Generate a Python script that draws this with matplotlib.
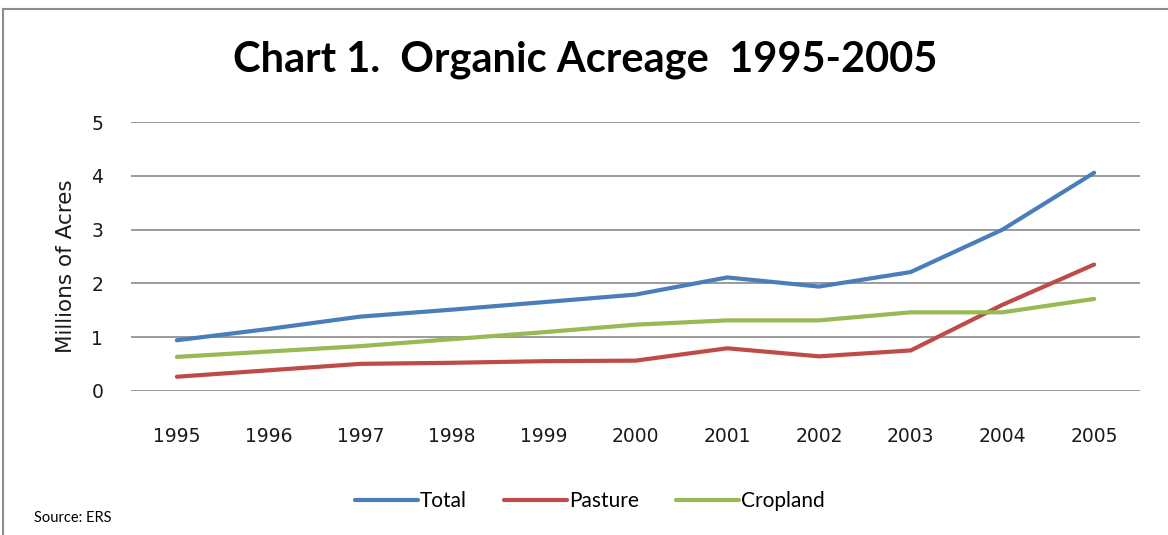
import matplotlib
matplotlib.use("Agg")
import matplotlib.pyplot as plt
from matplotlib.lines import Line2D

years = [1995, 1996, 1997, 1998, 1999, 2000, 2001, 2002, 2003, 2004, 2005]
total = [0.94, 1.15, 1.38, 1.51, 1.65, 1.79, 2.11, 1.94, 2.21, 3.00, 4.06]
pasture = [0.26, 0.38, 0.50, 0.52, 0.55, 0.56, 0.79, 0.64, 0.75, 1.60, 2.35]
cropland = [0.63, 0.73, 0.83, 0.96, 1.09, 1.23, 1.31, 1.31, 1.46, 1.46, 1.71]
yticks = [0, 1, 2, 3, 4, 5]

title = "Chart 1.  Organic Acreage  1995-2005"
ylabel = "Millions of Acres"
source = "Source: ERS"

W, H = 1168, 535
fig = plt.figure(figsize=(W / 100, H / 100), dpi=100)
fig.patch.set_facecolor("white")

# outer chart frame (top and left visible)
fig.add_artist(Line2D([3 / W, 3 / W], [0, 1 - 9 / H], transform=fig.transFigure,
                      color="#8c8c8c", lw=1.5))
fig.add_artist(Line2D([3 / W, 1], [1 - 9 / H, 1 - 9 / H], transform=fig.transFigure,
                      color="#8c8c8c", lw=1.5))

ax = fig.add_axes([131 / W, 1 - 390.7 / H, (1140 - 131) / W, (390.7 - 122.3) / H])

c_total = "#4A7EBB"
c_past = "#BE4B48"
c_crop = "#98B954"

ax.plot(years, total, color=c_total, lw=3.0, solid_capstyle="round", label="Total", zorder=3)
ax.plot(years, pasture, color=c_past, lw=3.0, solid_capstyle="round", label="Pasture", zorder=3)
ax.plot(years, cropland, color=c_crop, lw=3.0, solid_capstyle="round", label="Cropland", zorder=3)

ax.set_xlim(years[0] - 0.5, years[-1] + 0.5)
ax.set_ylim(0, 5)
ax.set_yticks(yticks)
ax.set_xticks(years)
ax.set_xticklabels([str(y) for y in years])
ax.grid(axis="y", color="#8a8a8a", lw=1.2)
ax.set_axisbelow(True)
for s in ax.spines.values():
    s.set_visible(False)
ax.tick_params(axis="both", length=0, labelsize=13.5, colors="#1a1a1a")
ax.tick_params(axis="x", pad=26)
ax.tick_params(axis="y", pad=20)
for lab in ax.get_xticklabels() + ax.get_yticklabels():
    lab.set_family("DejaVu Sans")

fig.text(66 / W, 1 - 266 / H, ylabel, rotation=90, ha="center", va="center",
         fontsize=15.5, family="DejaVu Sans", color="#1a1a1a")

fig.text(585 / W, 1 - 60 / H, title, ha="center", va="center", fontsize=30,
         family="Lato", fontweight="bold", color="black")

leg = fig.legend(handles=ax.get_lines(), loc="center", bbox_to_anchor=(590 / W, 1 - 501 / H),
                 ncol=3, frameon=False, handlelength=3.0, handletextpad=0.1,
                 columnspacing=1.8, prop={"family": "Lato", "size": 15})

fig.text(34 / W, 1 - 518 / H, source, ha="left", va="center", fontsize=10.5,
         family="Lato", color="black")

fig.savefig("out.png", dpi=100, facecolor="white")
